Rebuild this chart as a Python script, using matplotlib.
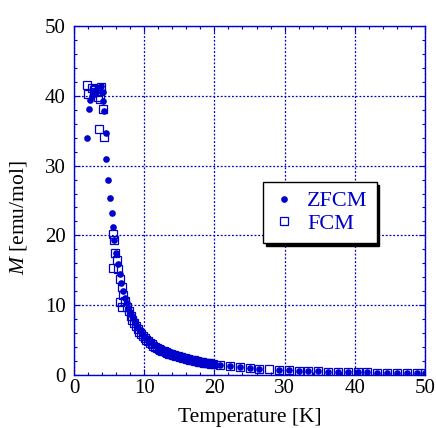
import matplotlib
matplotlib.use("Agg")
import matplotlib.pyplot as plt

# ---- data ----
zfcm_T = [1.9, 2.1, 2.3, 2.5, 2.7, 2.9, 3.1, 3.3, 3.5, 3.7, 3.9, 4.1, 4.2, 4.3,
          4.5, 4.56, 4.9, 5.13, 5.37, 5.5,
          5.75, 6.0, 6.25, 6.5, 6.75, 7.0, 7.25, 7.5, 7.75, 8.0, 8.25, 8.5, 8.75,
          9.0, 9.25, 9.5, 9.75, 10.0, 10.25, 10.5, 10.75, 11.0, 11.25, 11.5, 11.75,
          12.0, 12.25, 12.5, 12.75, 13.0, 13.25, 13.5, 13.75,
          14.0, 14.25, 14.5, 14.75, 15.0, 15.25, 15.5, 15.75, 16.0, 16.25, 16.5,
          16.75, 17.0, 17.25, 17.5, 17.75, 18.0, 18.25, 18.5, 18.75, 19.0,
          19.25, 19.5, 19.75, 20.0, 20.8, 22.2, 23.6, 25.0, 26.4, 29.2, 30.6, 32.0, 33.4,
          34.8, 36.2, 37.6, 39.0, 40.4, 41.8, 43.2, 44.6, 46.0, 47.4, 48.8, 50.0]
zfcm_M = [34.0, 38.1, 39.4, 40.0, 40.3, 40.6, 40.9, 41.0, 40.8, 41.2, 41.4, 40.5, 39.2, 37.8,
          34.7, 31.0, 27.9, 25.4, 23.2, 21.2,
          19.3, 17.5, 15.9, 14.5, 13.2, 12.1, 11.1, 10.3, 9.6, 9.0, 8.4, 7.9, 7.4,
          7.0, 6.6, 6.2, 5.9, 5.6, 5.35, 5.1, 4.9, 4.7, 4.5, 4.35, 4.2,
          4.05, 3.9, 3.8, 3.65, 3.55, 3.45, 3.35, 3.25,
          3.15, 3.08, 3.0, 2.92, 2.85, 2.78, 2.7, 2.62, 2.55, 2.48, 2.4,
          2.35, 2.3, 2.22, 2.15, 2.1, 2.05, 2.0, 1.95, 1.9, 1.85,
          1.8, 1.75, 1.7, 1.65, 1.45, 1.3, 1.15, 1.0, 0.9, 0.75, 0.68, 0.62, 0.57,
          0.52, 0.48, 0.45, 0.42, 0.4, 0.37, 0.35, 0.33, 0.31, 0.3, 0.28, 0.27]

fcm_T = [1.8, 2.0, 2.5, 2.8, 3.0, 3.2, 3.4, 3.7, 3.9, 4.2, 3.5, 4.3,
         5.5, 5.7, 5.84, 6.1, 5.5, 6.55, 6.9,
         6.3, 6.55, 6.8, 7.05, 7.3, 7.55, 7.8, 8.05, 8.3, 8.55, 8.8, 9.05, 9.3,
         9.55, 9.8, 10.05, 10.3, 10.55, 10.8, 11.05, 11.3, 11.55, 11.8, 12.05,
         12.3, 12.55, 12.8, 13.05, 13.3, 13.55, 13.8, 14.05, 14.3, 14.55, 14.8,
         15.05, 15.3, 15.55, 15.8, 16.05, 16.3, 16.55, 16.8, 17.05, 17.3, 17.55,
         17.8, 18.05, 18.3, 18.55, 18.8, 19.05, 19.3, 19.55, 19.8,
         20.8, 22.2, 23.6, 25.0, 26.4, 27.8, 29.2, 30.6, 32.0, 33.4, 34.8, 36.2,
         37.6, 39.0, 40.4, 41.8, 43.2, 44.6, 46.0, 47.4, 48.8, 50.0]
fcm_M = [41.5, 40.2, 41.1, 40.9, 41.0, 40.6, 39.8, 39.6, 41.3, 38.1, 35.3, 34.1,
         20.2, 19.3, 17.5, 16.5, 15.4, 10.5, 9.8,
         15.2, 13.8, 12.6, 11.5, 10.6, 9.8, 9.1, 8.5, 7.9, 7.4, 7.0, 6.6, 6.2,
         5.9, 5.6, 5.3, 5.05, 4.8, 4.6, 4.4, 4.2, 4.05, 3.9, 3.75,
         3.6, 3.5, 3.38, 3.27, 3.17, 3.07, 2.98, 2.9, 2.82, 2.74, 2.66,
         2.59, 2.52, 2.45, 2.38, 2.32, 2.26, 2.2, 2.14, 2.08, 2.03, 1.98,
         1.93, 1.88, 1.83, 1.78, 1.74, 1.7, 1.66, 1.62, 1.58,
         1.42, 1.28, 1.13, 1.0, 0.88, 0.8, 0.74, 0.67, 0.61, 0.56, 0.51, 0.47,
         0.44, 0.41, 0.39, 0.36, 0.34, 0.32, 0.3, 0.29, 0.27, 0.26]

x_ticks = [0, 10, 20, 30, 40, 50]
y_ticks = [0, 10, 20, 30, 40, 50]

BLUE = '#0000cc'

plt.rcParams['font.family'] = ['Liberation Serif', 'DejaVu Serif']
plt.rcParams['mathtext.fontset'] = 'custom'
plt.rcParams['mathtext.it'] = 'Liberation Serif:italic'
plt.rcParams['mathtext.rm'] = 'Liberation Serif'

fig = plt.figure(figsize=(4.36, 4.28), dpi=100)
ax = fig.add_axes([74/436, 1-375/428, 351/436, 349/428])

ax.plot(zfcm_T, zfcm_M, linestyle='none', marker='o', markersize=4.8,
        color=BLUE, markeredgewidth=0, label='ZFCM', zorder=3)
ax.plot(fcm_T, fcm_M, linestyle='none', marker='s', markersize=5.2,
        markerfacecolor='none', markeredgecolor=BLUE, markeredgewidth=0.9,
        label='FCM', zorder=4)

ax.set_xlim(0, 50)
ax.set_ylim(0, 50)
ax.set_xticks(x_ticks)
ax.set_yticks(y_ticks)
ax.set_xticks([2*i for i in range(26)], minor=True)
ax.set_yticks([2*i for i in range(26)], minor=True)
ax.tick_params(which='both', direction='in', top=True, right=True, color=BLUE,
               labelsize=15, labelcolor='black', pad=3)
ax.tick_params(axis='y', which='major', pad=6)
ax.tick_params(which='major', length=4, width=0.8)
ax.tick_params(which='minor', length=2.5, width=0.8)
for s in ax.spines.values():
    s.set_color(BLUE)
    s.set_linewidth(1.0)

ax.grid(True, which='major', color=BLUE, linestyle=(0, (1.5, 1.5)), linewidth=0.9)

ax.set_xlabel('Temperature [K]', fontsize=15.5, labelpad=7)
ax.set_ylabel('$M$ [emu/mol]', fontsize=15.5)
ax.yaxis.set_label_coords(-0.128, 0.45)

leg = ax.legend(loc='upper left', bbox_to_anchor=(0.538, 0.553), frameon=True,
                fancybox=False, shadow={'color': 'black', 'alpha': 1.0},
                edgecolor='black', framealpha=1,
                fontsize=16, handlelength=1.1, handletextpad=0.5,
                borderpad=0.4, labelspacing=0.1, borderaxespad=0,
                markerscale=1.0)
for t in leg.get_texts():
    t.set_color(BLUE)
leg.get_frame().set_linewidth(1.0)

fig.savefig('out.png', dpi=100)
